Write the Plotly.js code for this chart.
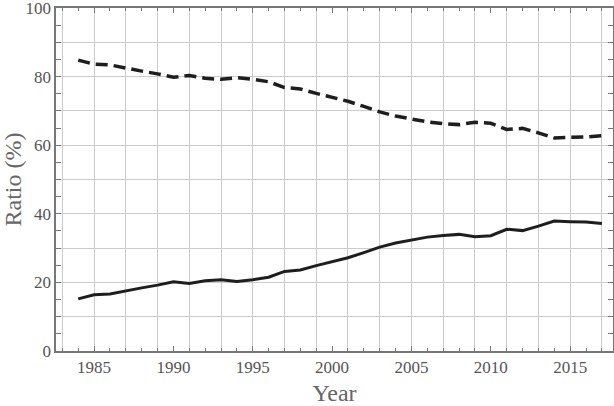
<!DOCTYPE html>
<html>
<head>
<meta charset="utf-8">
<script src="https://cdn.plot.ly/plotly-3.0.1.min.js"></script>
<style>
  body { margin: 0; background: #fff; }
  #chart { width: 614px; height: 406px; }
</style>
</head>
<body>
<div id="chart"></div>
<script>
// values, in %
let years = [1984, 1985, 1986, 1987, 1988, 1989, 1990, 1991, 1992, 1993, 1994, 1995, 1996, 1997, 1998, 1999, 2000,
             2001, 2002, 2003, 2004, 2005, 2006, 2007, 2008, 2009, 2010, 2011, 2012, 2013, 2014, 2015, 2016, 2017];
let lower = [15.2, 16.4, 16.6, 17.6, 18.4, 19.2, 20.2, 19.7, 20.5, 20.8, 20.3, 20.8, 21.5, 23.2, 23.6, 24.9, 26.0,
             27.2, 28.7, 30.3, 31.5, 32.3, 33.2, 33.7, 34.0, 33.3, 33.6, 35.5, 35.1, 36.4, 37.9, 37.7, 37.6, 37.2];
let upper = [84.8, 83.6, 83.4, 82.4, 81.6, 80.8, 79.8, 80.3, 79.5, 79.2, 79.7, 79.2, 78.5, 76.8, 76.4, 75.1, 74.0,
             72.8, 71.3, 69.7, 68.5, 67.7, 66.8, 66.3, 66.0, 66.7, 66.4, 64.6, 64.9, 63.6, 62.1, 62.3, 62.4, 62.8];
let gridYears = [1983, 1985, 1987, 1989, 1991, 1993, 1995, 1997, 1999, 2001, 2003, 2005, 2007, 2009, 2011, 2013, 2015, 2017];
let yVals = [0, 10, 20, 30, 40, 50, 60, 70, 80, 90, 100];
let yText = ['0', '', '20', '', '40', '', '60', '', '80', '', '100'];

let xRange = [1982.6, 2017.7];
let serif = 'Liberation Serif, DejaVu Serif, serif';

let traces = [
    {
        mode: 'lines',
        type: 'scatter',
        x: years,
        y: upper,
        xaxis: 'x',
        line: {color: '#1e1e1e', width: 3.5, dash: '12px,6px'},
        hoverinfo: 'skip'
    },
    {
        mode: 'lines',
        type: 'scatter',
        x: years,
        y: lower,
        xaxis: 'x2',
        line: {color: '#1e1e1e', width: 3},
        hoverinfo: 'skip'
    }
];

let layout = {
    width: 614,
    height: 406,
    margin: {l: 56, r: 1, t: 8, b: 55},
    paper_bgcolor: '#fff',
    plot_bgcolor: '#fff',
    showlegend: false,
    font: {family: serif, color: '#555', size: 17},
    xaxis: {
        range: xRange,
        tick0: 1985,
        dtick: 5,
        ticks: 'inside',
        ticklen: 5,
        tickcolor: '#777',
        tickwidth: 1,
        minor: {dtick: 1, tick0: 1985, ticks: 'inside', ticklen: 3, tickcolor: '#777', showgrid: false},
        showgrid: false,
        zeroline: false,
        showline: true,
        linecolor: '#777',
        linewidth: 1.6,
        mirror: 'allticks',
        ticklabeloverflow: 'allow',
        tickfont: {size: 17, color: '#555'},
        title: {text: 'Year', font: {size: 24, color: '#666'}, standoff: 14}
    },
    xaxis2: {
        range: xRange,
        overlaying: 'x',
        anchor: 'y',
        side: 'bottom',
        tickvals: gridYears,
        showticklabels: false,
        ticks: '',
        showgrid: true,
        gridcolor: '#cbcbcb',
        gridwidth: 1,
        zeroline: false,
        showline: false
    },
    yaxis: {
        range: [0, 100],
        tickvals: yVals,
        ticktext: yText,
        ticks: 'inside',
        ticklen: 5,
        tickcolor: '#777',
        minor: {dtick: 5, ticks: 'inside', ticklen: 3, tickcolor: '#777', showgrid: false},
        showgrid: true,
        gridcolor: '#cbcbcb',
        gridwidth: 1,
        zeroline: false,
        showline: true,
        linecolor: '#777',
        linewidth: 1.6,
        mirror: 'allticks',
        ticklabeloverflow: 'allow',
        tickfont: {size: 17, color: '#555'},
        title: {text: 'Ratio (%)', font: {size: 24, color: '#666'}, standoff: 4}
    }
};

Plotly.newPlot('chart', traces, layout, {displayModeBar: false, staticPlot: true});
</script>
</body>
</html>
